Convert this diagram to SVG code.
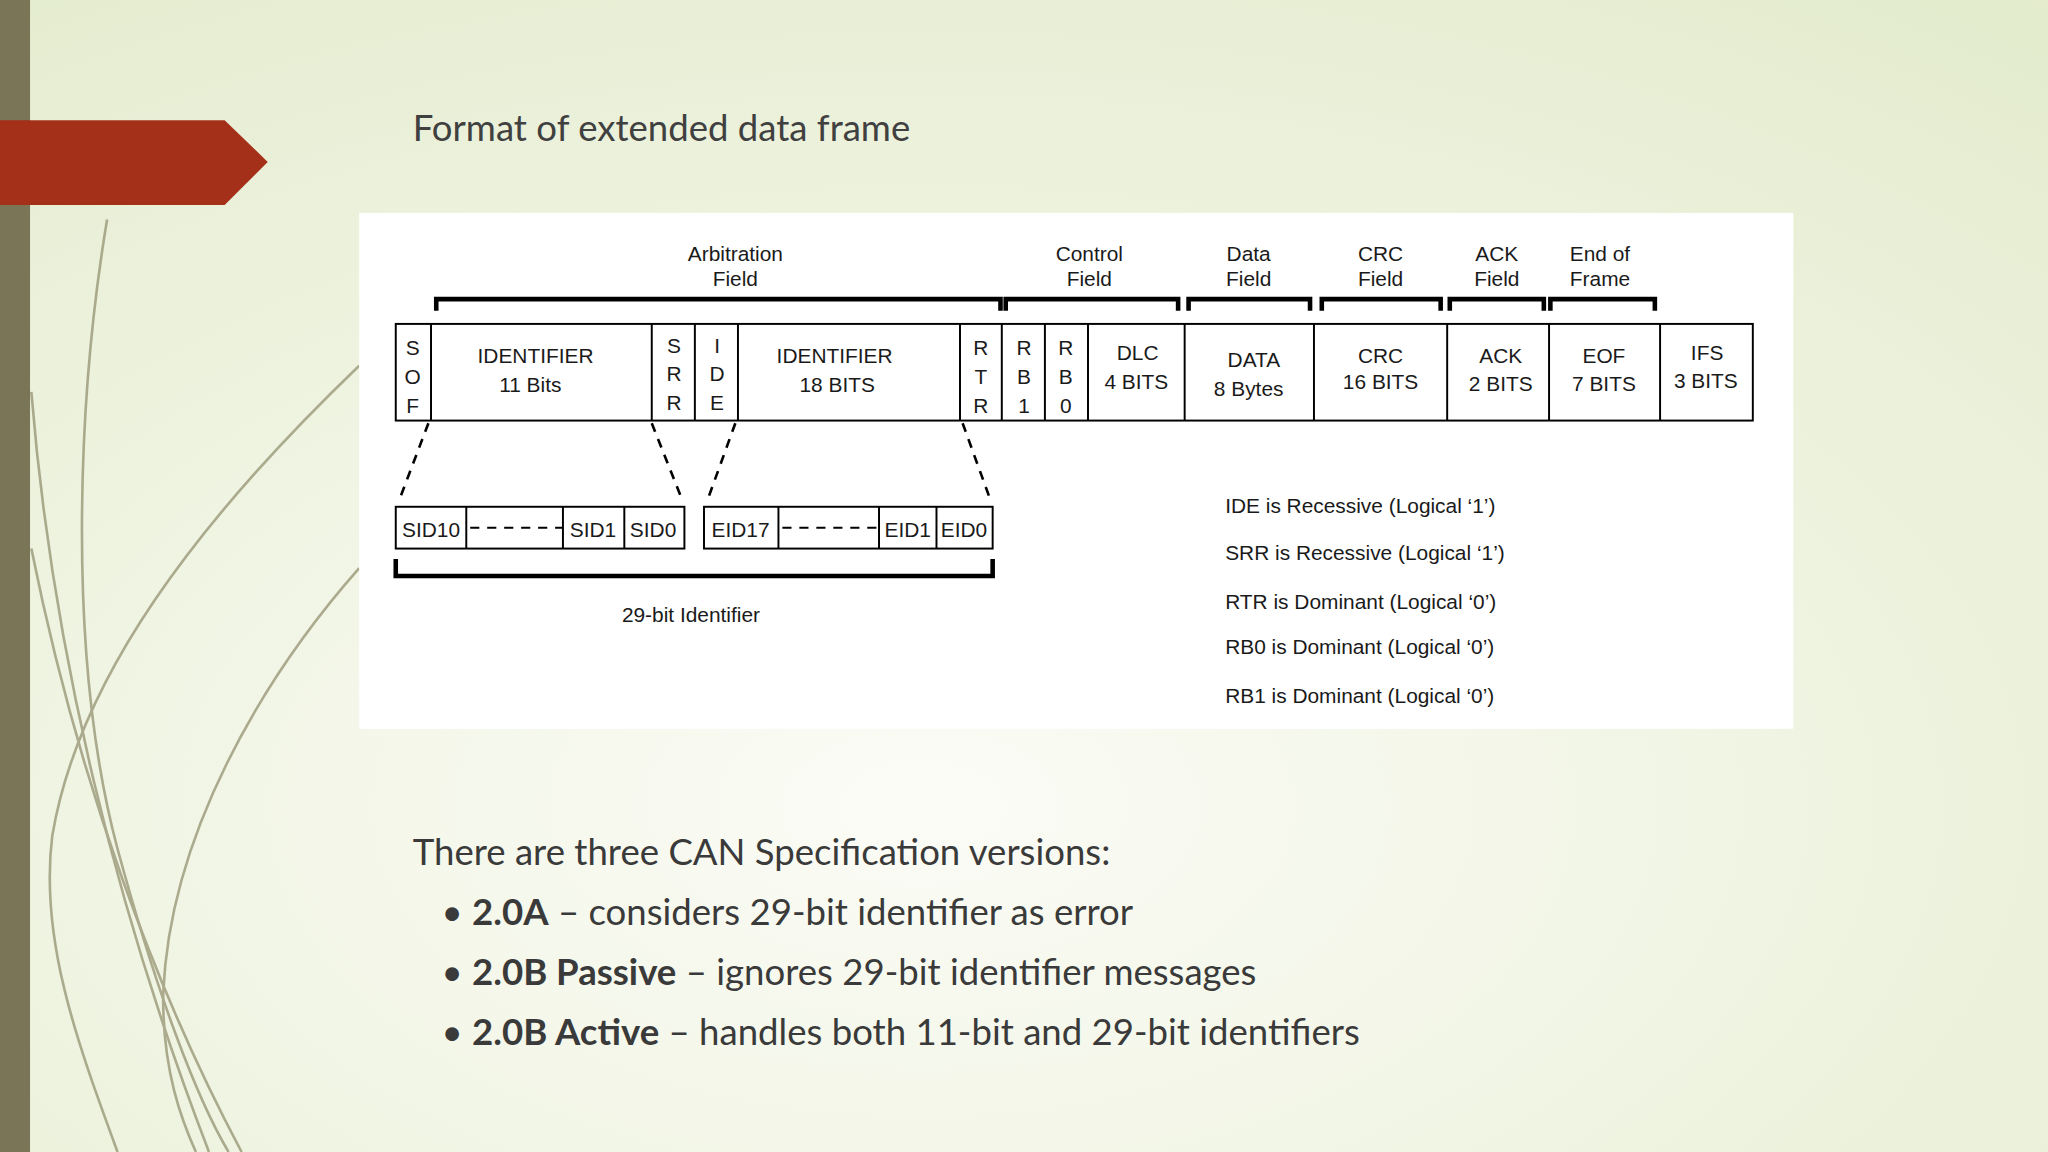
<svg xmlns="http://www.w3.org/2000/svg" width="2048" height="1152" viewBox="0 0 2048 1152">
<defs>
<radialGradient id="bg" cx="0.45" cy="0.7" r="0.9">
<stop offset="0" stop-color="#fbfcf6"/>
<stop offset="1" stop-color="#e3ebcc"/>
</radialGradient>
<style>
.t{font-family:"Liberation Sans",Arial,sans-serif;font-size:16px;fill:#1a1a1a;text-anchor:middle}
.n{font-family:"Liberation Sans",Arial,sans-serif;font-size:16px;fill:#1a1a1a}
.ln{stroke:#000;stroke-width:1.5;fill:none}
.br{stroke:#000;stroke-width:3.5;fill:none}
.ds{stroke:#000;stroke-width:2;fill:none;stroke-dasharray:7,6}
.c{font-family:Lato,"Open Sans",sans-serif;font-size:28px;fill:#3a3a3a}
.deco{stroke:#9a9878;fill:none;stroke-width:2}
</style>
</defs>
<rect width="2048" height="1152" fill="url(#bg)"/>
<g transform="scale(1.306122)">
<g id="deco" opacity="0.8">
<path class="deco" d="M82,168 C60,300 50,500 90,650 C120,760 150,840 175,882"/>
<path class="deco" d="M24,300 C40,500 90,700 160,882" stroke-width="3"/>
<path class="deco" d="M275,280 C150,400 60,520 40,640 C30,720 60,800 90,882"/>
<path class="deco" d="M275,435 C200,520 130,640 125,760 C124,820 140,860 150,882" stroke-width="2.5"/>
<path class="deco" d="M24,420 C60,600 120,760 185,882" stroke="#c8c7b0"/>
</g>
<rect x="0" y="0" width="23" height="882" fill="#7a7556"/>
<polygon points="0,92 172,92 205,124 172,157 0,157" fill="#a5301a"/>
<text x="316" y="108" class="c" style="font-size:28px;fill:#404040">Format of extended data frame</text>
<rect x="275" y="163" width="1098" height="395" fill="#fff"/>
<g id="brackets">
<path class="br" d="M334,238 V229 H766 V238 M770,238 V229 H902 V238 M910,238 V229 H1003 V238 M1012,238 V229 H1103 V238 M1110,238 V229 H1182 V238 M1187,238 V229 H1267 V238"/>
<text class="t" x="563" y="200">Arbitration</text><text class="t" x="563" y="219">Field</text>
<text class="t" x="834" y="200">Control</text><text class="t" x="834" y="219">Field</text>
<text class="t" x="956" y="200">Data</text><text class="t" x="956" y="219">Field</text>
<text class="t" x="1057" y="200">CRC</text><text class="t" x="1057" y="219">Field</text>
<text class="t" x="1146" y="200">ACK</text><text class="t" x="1146" y="219">Field</text>
<text class="t" x="1225" y="200">End of</text><text class="t" x="1225" y="219">Frame</text>
</g>
<g id="frame">
<rect class="ln" x="303" y="248" width="1039" height="74"/>
<path class="ln" d="M330,248V322M499,248V322M532,248V322M565,248V322M735,248V322M767,248V322M800,248V322M833,248V322M907,248V322M1006,248V322M1108,248V322M1186,248V322M1271,248V322"/>
<text class="t" x="316" y="272">S</text><text class="t" x="316" y="294">O</text><text class="t" x="316" y="316">F</text>
<text class="t" x="410" y="278">IDENTIFIER</text><text class="t" x="406" y="300">11 Bits</text>
<text class="t" x="516" y="270">S</text><text class="t" x="516" y="292">R</text><text class="t" x="516" y="314">R</text>
<text class="t" x="549" y="270">I</text><text class="t" x="549" y="292">D</text><text class="t" x="549" y="314">E</text>
<text class="t" x="639" y="278">IDENTIFIER</text><text class="t" x="641" y="300">18 BITS</text>
<text class="t" x="751" y="272">R</text><text class="t" x="751" y="294">T</text><text class="t" x="751" y="316">R</text>
<text class="t" x="784" y="272">R</text><text class="t" x="784" y="294">B</text><text class="t" x="784" y="316">1</text>
<text class="t" x="816" y="272">R</text><text class="t" x="816" y="294">B</text><text class="t" x="816" y="316">0</text>
<text class="t" x="871" y="276">DLC</text><text class="t" x="870" y="298">4 BITS</text>
<text class="t" x="960" y="281">DATA</text><text class="t" x="956" y="303">8 Bytes</text>
<text class="t" x="1057" y="278">CRC</text><text class="t" x="1057" y="298">16 BITS</text>
<text class="t" x="1149" y="278">ACK</text><text class="t" x="1149" y="299">2 BITS</text>
<text class="t" x="1228" y="278">EOF</text><text class="t" x="1228" y="299">7 BITS</text>
<text class="t" x="1307" y="276">IFS</text><text class="t" x="1306" y="297">3 BITS</text>
</g>
<g id="connectors">
<path class="ds" d="M328,324 L306,382 M499,324 L522,382 M563,324 L542,382 M737,324 L758,382"/>
</g>
<g id="identifier">
<rect class="ln" x="303" y="388" width="221" height="32"/>
<path class="ln" d="M357,388V420M431,388V420M478,388V420"/>
<path class="ds" style="stroke-width:1.5" d="M360,404H431"/>
<rect class="ln" x="539" y="388" width="221" height="32"/>
<path class="ln" d="M596,388V420M673,388V420M717,388V420"/>
<path class="ds" style="stroke-width:1.5" d="M599,404H673"/>
<text class="t" x="330" y="411">SID10</text><text class="t" x="454" y="411">SID1</text><text class="t" x="500" y="411">SID0</text>
<text class="t" x="567" y="411">EID17</text><text class="t" x="695" y="411">EID1</text><text class="t" x="738" y="411">EID0</text>
<path class="br" d="M303,428V441H760V428"/>
<text class="t" x="529" y="476">29-bit Identifier</text>
</g>
<g id="notes">
<text class="n" x="938" y="393">IDE is Recessive (Logical ‘1’)</text>
<text class="n" x="938" y="429">SRR is Recessive (Logical ‘1’)</text>
<text class="n" x="938" y="466">RTR is Dominant (Logical ‘0’)</text>
<text class="n" x="938" y="501">RB0 is Dominant (Logical ‘0’)</text>
<text class="n" x="938" y="538">RB1 is Dominant (Logical ‘0’)</text>
</g>
<g id="bullets">
<text class="c" x="316" y="662">There are three CAN Specification versions:</text>
<text class="c" x="338" y="708">• <tspan font-weight="bold">2.0A</tspan> – considers 29-bit identifier as error</text>
<text class="c" x="338" y="754">• <tspan font-weight="bold">2.0B Passive</tspan> – ignores 29-bit identifier messages</text>
<text class="c" x="338" y="800">• <tspan font-weight="bold">2.0B Active</tspan> – handles both 11-bit and 29-bit identifiers</text>
</g>
</g>
</svg>
